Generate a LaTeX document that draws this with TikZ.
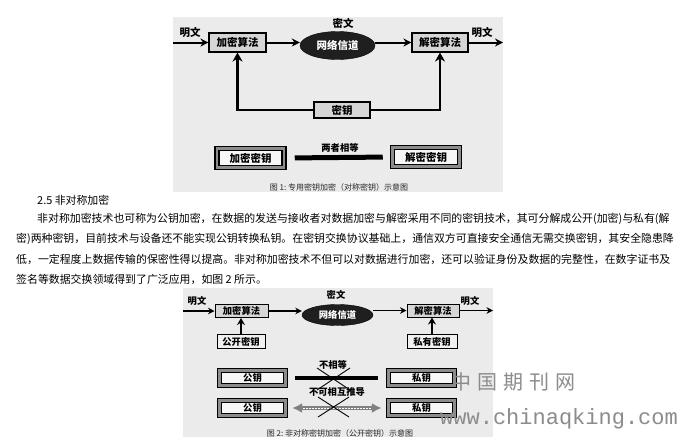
\documentclass[tikz,border=0pt]{standalone}
\usepackage{fontspec}
\setmainfont{Liberation Serif}
\newfontfamily\cjk{Noto Sans CJK SC}
\newfontfamily\wmmono{Liberation Mono}
\usetikzlibrary{arrows.meta,shapes.geometric}
\XeTeXlinebreaklocale "zh"
\XeTeXlinebreakskip=0pt plus 2pt minus 0.3pt
\tikzset{
 panel/.style={fill=black!8},
 algbox/.style={draw=black, line width=1.1pt, fill=black!16, inner sep=0pt, font=\cjk\bfseries\fontsize{10.5}{10.5}\selectfont},
 algboxs/.style={draw=black, line width=1pt, fill=black!16, inner sep=0pt, font=\cjk\bfseries\fontsize{9.3}{9.3}\selectfont},
 chan/.style={ellipse, fill=black!88, draw=black, inner sep=0pt, text=white, font=\cjk\bfseries\fontsize{10.5}{10.5}\selectfont},
 chans/.style={ellipse, fill=black!88, draw=black, inner sep=0pt, text=white, font=\cjk\bfseries\fontsize{9.3}{9.3}\selectfont},
 lbl/.style={font=\cjk\bfseries\fontsize{10.5}{10.5}\selectfont, inner sep=0pt},
 lbls/.style={font=\cjk\bfseries\fontsize{9.3}{9.3}\selectfont, inner sep=0pt},
 keybox/.style={draw=black, line width=1.5pt, double=black!45, double distance=2.6pt, fill=black!3, inner sep=0pt, font=\cjk\bfseries\fontsize{10.5}{10.5}\selectfont},
 keyboxs/.style={draw=black, line width=1.4pt, double=black!45, double distance=2.4pt, fill=black!3, inner sep=0pt, font=\cjk\bfseries\fontsize{9.3}{9.3}\selectfont},
 arr/.style={line width=2pt, -{Stealth[length=8pt,width=8pt]}},
 arrs/.style={line width=1.6pt, -{Stealth[length=6.5pt,width=6.5pt]}},
 loopline/.style={line width=2.6pt, -{Stealth[length=9pt,width=10pt]}},
 upline/.style={line width=2.4pt, -{Stealth[length=7pt,width=8pt]}},
 captxt/.style={font=\cjk\fontsize{8}{8}\selectfont, inner sep=0pt, text=black!85},
 bodytxt/.style={font=\cjk\fontsize{10.9}{12}\selectfont, anchor=west, inner sep=0pt, text=black},
 xmark/.style={line width=0.9pt},
 wm/.style={text=black!45, anchor=west, inner sep=0pt}
}
\begin{document}
\begin{tikzpicture}[x=1pt,y=-1pt]
\useasboundingbox (0,0) rectangle (680,440);
\fill[white] (0,0) rectangle (680,440);

% ---------------- Figure 1 ----------------
\fill[panel] (173,17) rectangle (503,192);
\node[algbox, minimum width=57, minimum height=19] (enc1) at (237.5,42.5) {加密算法};
\node[chan, minimum width=75, minimum height=28] (ch1) at (337.5,45.5) {网络信道};
\node[algbox, minimum width=56, minimum height=19] (dec1) at (440,42.5) {解密算法};
\node[algbox, minimum width=56, minimum height=16] (key1) at (342,110) {密钥};
\coordinate (in1) at (173,42.5);
\coordinate (out1) at (503,42.5);
\draw[arr] (in1) -- (enc1.west);
\draw[arr] (enc1.east) -- (enc1.east -| ch1.west);
\draw[arr] (ch1.east |- dec1.west) -- (dec1.west);
\draw[arr] (dec1.east) -- (out1);
\draw[loopline] (key1.west) -| (enc1.south);
\draw[loopline] (key1.east) -| (dec1.south);
\node[lbl] (pt1) at (190,32) {明文};
\node[lbl] (ct1) at (343,23) {密文};
\node[lbl] (pt1b) at (482,32) {明文};

\node[keybox, minimum width=67, minimum height=19] (ek) at (250.5,158) {加密密钥};
\node[keybox, minimum width=67, minimum height=19] (dk) at (426,157) {解密密钥};
\draw[line width=5pt, shorten <=10pt, shorten >=9pt] (ek.east) -- (dk.west);
\node[lbls] (eq) at (340,148) {两者相等};
\node[captxt] (cap1) at (339,187) {图 1:\ 专用密钥加密（对称密钥）示意图};

% ---------------- Text ----------------
\node[bodytxt] (h) at (37,200) {2.5 非对称加密};
\node[bodytxt, text width=638pt, align=justify] (l1) at (37,219) {\parfillskip=0pt\relax 非对称加密技术也可称为公钥加密，在数据的发送与接收者对数据加密与解密采用不同的密钥技术，其可分解成公开(加密)与私有(解};
\node[bodytxt, text width=659pt, align=justify] (l2) at (16,239) {\parfillskip=0pt\relax 密)两种密钥，目前技术与设备还不能实现公钥转换私钥。在密钥交换协议基础上，通信双方可直接安全通信无需交换密钥，其安全隐患降};
\node[bodytxt, text width=659pt, align=justify] (l3) at (16,259) {\parfillskip=0pt\relax 低，一定程度上数据传输的保密性得以提高。非对称加密技术不但可以对数据进行加密，还可以验证身份及数据的完整性，在数字证书及};
\node[bodytxt] (l4) at (16,279) {签名等数据交换领域得到了广泛应用，如图 2 所示。};

% ---------------- Figure 2 ----------------
\fill[panel] (183,288) rectangle (493,437);
\node[algboxs, minimum width=53, minimum height=13] (enc2) at (241.5,311) {加密算法};
\node[chans, minimum width=71, minimum height=21] (ch2) at (337.5,315) {网络信道};
\node[algboxs, minimum width=52, minimum height=13] (dec2) at (433,310.5) {解密算法};
\node[algboxs, fill=black!6, minimum width=48, minimum height=14] (pub) at (241,341.5) {公开密钥};
\node[algboxs, fill=black!6, minimum width=50, minimum height=14] (pri) at (432,341.5) {私有密钥};
\coordinate (in2) at (183,311);
\coordinate (out2) at (493,310.5);
\draw[arrs] (in2) -- (enc2.west);
\draw[arrs] (enc2.east) -- (enc2.east -| ch2.west);
\draw[arrs] (ch2.east |- dec2.west) -- (dec2.west);
\draw[arrs] (dec2.east) -- (out2);
\draw[upline] (pub.north) -- (pub.north |- enc2.south);
\draw[upline] (pri.north) -- (pri.north |- dec2.south);
\node[lbls] (pt2) at (197,301) {明文};
\node[lbls] (ct2) at (336,295) {密文};
\node[lbls] (pt2b) at (470,301) {明文};

\node[keyboxs, minimum width=66, minimum height=15] (k1) at (252.5,378) {公钥};
\node[keyboxs, minimum width=66, minimum height=15] (k2) at (252.5,408) {公钥};
\node[keyboxs, minimum width=66, minimum height=15] (k3) at (421.5,378) {私钥};
\node[keyboxs, minimum width=66, minimum height=15] (k4) at (421.5,408) {私钥};
\draw[line width=4pt, shorten <=9pt, shorten >=10pt] (k1.east) -- (k3.west);
\draw[line width=3.4pt, black!50, shorten <=6pt, shorten >=6pt,
  {Latex[length=10pt,width=10pt]}-{Latex[length=10pt,width=10pt]}] (k2.east) -- (k4.west);
\draw[white, line width=1pt, dash pattern=on 1.5pt off 1.5pt, shorten <=17pt, shorten >=17pt] (k2.east) -- (k4.west);
\node[lbls] (ne) at (333,365) {不相等};
\node[lbls] (nd) at (337,391.5) {不可相互推导};
\draw[xmark] (317,368) -- (350,390);
\draw[xmark] (317,390) -- (350,368);
\draw[xmark] (318,397) -- (349,417);
\draw[xmark] (318,417) -- (349,397);
\node[captxt] (cap2) at (340,433) {图 2:\ 非对称密钥加密（公开密钥）示意图};

% ---------------- Watermark ----------------
\node[wm, font=\cjk\fontsize{20}{20}\selectfont] (wm1) at (451,382) {中\hspace{6pt}国\hspace{6pt}期\hspace{6pt}刊\hspace{6pt}网};
\node[wm, font=\wmmono\fontsize{22}{22}\selectfont] (wm2) at (440,419) {www.chinaqking.com};
\end{tikzpicture}
\end{document}
